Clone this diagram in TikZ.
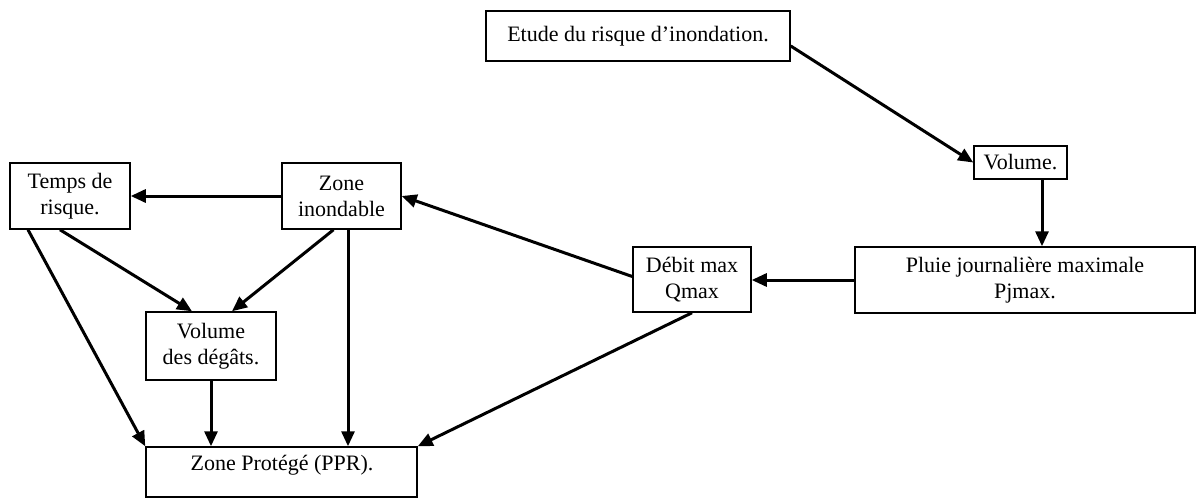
\documentclass[tikz,border=0pt]{standalone}
\usepackage{fontspec}
\setmainfont{Liberation Serif}
\usetikzlibrary{arrows.meta,calc}
\tikzset{
  box/.style={draw=black, line width=1.5pt, inner sep=0pt, align=center, font=\fontsize{22}{26}\selectfont},
  lbl/.style={inner sep=0pt, font=\fontsize{22}{26}\selectfont},
  arr/.style={line width=3pt, -{Triangle[length=15pt,width=13pt]}}
}
\begin{document}
\begin{tikzpicture}[x=1pt,y=-1pt]
\useasboundingbox (0,0) rectangle (1196,498);
\node[box, minimum width=304pt, minimum height=50pt] (etude) at (638,36) {Etude du risque d'inondation.};
\node[box, minimum width=93pt, minimum height=33pt] (vol) at (1020.5,162.5) {Volume.};
\node[box, minimum width=340pt, minimum height=66pt] (pluie) at (1025,280) {Pluie journalière maximale\\Pjmax.};
\node[box, minimum width=118pt, minimum height=65pt] (debit) at (692,279.5) {Débit max\\Qmax};
\node[box, minimum width=119pt, minimum height=66pt] (zinon) at (341.5,196) {Zone\\inondable};
\node[box, minimum width=120pt, minimum height=66pt] (temps) at (70,196) {Temps de\\risque.};
\node[box, minimum width=130pt, minimum height=68pt] (vdeg) at (211,346) {Volume\\des dégâts.};
\node[box, minimum width=271pt, minimum height=50pt] (zprot) at (281.5,472) {};
\node[lbl, anchor=base] (zprotlbl) at (282,470) {Zone Protégé (PPR).};

\draw[arr] ([yshift=-10pt]etude.east) -- (vol.west);
\draw[arr] ([xshift=21.5pt]vol.south) -- ([xshift=21.5pt]vol.south |- pluie.north);
\draw[arr] (pluie.west) -- (pluie.west -| debit.east);
\draw[arr] ([yshift=3pt]debit.west) -- (zinon.east);
\draw[arr] (zinon.west) -- (zinon.west -| temps.east);
\draw[arr] ([xshift=-10pt]temps.south) -- ([xshift=-19pt]vdeg.north);
\draw[arr] ([xshift=-8pt]zinon.south) -- ([xshift=21pt]vdeg.north);
\draw[arr] ([xshift=-42pt]temps.south) -- (zprot.north west);
\draw[arr] (vdeg.south) -- (vdeg.south |- zprot.north);
\draw[arr] ([xshift=6.5pt]zinon.south) -- ([xshift=6.5pt]zinon.south |- zprot.north);
\draw[arr] (debit.south) -- (zprot.north east);
\end{tikzpicture}
\end{document}
